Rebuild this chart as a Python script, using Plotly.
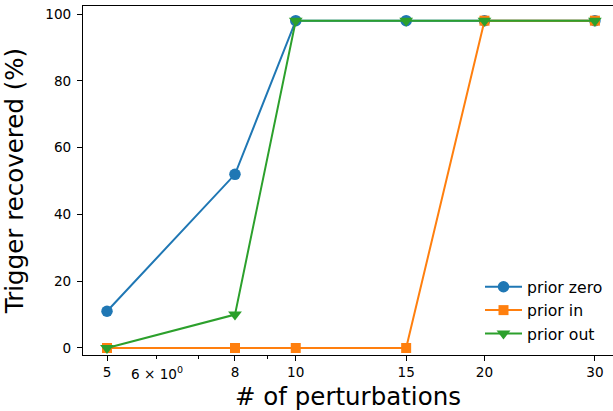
import math
import plotly.graph_objects as go

perturbations = [5, 8, 10, 15, 20, 30]
prior_zero = [11, 52, 98, 98, 98, 98]
prior_in = [0, 0, 0, 0, 98, 98]
prior_out = [0, 10, 98, 98, 98, 98]
x_ticks = [5, 8, 10, 15, 20, 30]
x_minor = [6, 7, 9]
y_ticks = [0, 20, 40, 60, 80, 100]

FONT = "DejaVu Sans"
TICK = 13.6
LABEL = 24.5
W, H = 613, 411
L, R, T, B = 83, 0, 6, 56
pw = W - L - R
ph = H - T - B
ppd = 627.0  # pixels per decade
x0 = math.log10(5) - 24 / ppd
x1 = x0 + pw / ppd

fig = go.Figure()
series = [
    ("prior zero", prior_zero, "#1f77b4", "circle", 11.5),
    ("prior in", prior_in, "#ff7f0e", "square", 10),
    ("prior out", prior_out, "#2ca02c", "triangle-down", 12),
]
for i, (name, vals, col, sym, sz) in enumerate(series):
    fig.add_trace(go.Scatter(
        x=perturbations, y=vals, name=name, mode="lines+markers",
        line=dict(color=col, width=2),
        marker=dict(color=col, symbol=sym, size=sz, line=dict(width=0)),
        legendgroup=f"g{i}",
    ))

fig.update_layout(
    width=W, height=H,
    margin=dict(l=L, r=R, t=T, b=B, pad=0),
    plot_bgcolor="white", paper_bgcolor="white",
    font=dict(family=FONT, color="black", size=TICK),
    showlegend=True,
    legend=dict(
        x=(480 - L) / pw, xanchor="left",
        y=(355 - 270) / ph, yanchor="top",
        bgcolor="rgba(0,0,0,0)", borderwidth=0,
        font=dict(family=FONT, size=15.7, color="black"),
        tracegroupgap=0, itemwidth=37,
    ),
    xaxis=dict(
        type="log", range=[x0, x1],
        tickmode="array", tickvals=x_ticks, ticktext=[str(v) for v in x_ticks],
        ticks="outside", ticklen=5, tickwidth=1, tickcolor="black",
        minor=dict(tickmode="array", tickvals=x_minor, ticks="outside",
                   ticklen=3, tickwidth=0.8, tickcolor="black", showgrid=False),
        showline=True, linecolor="black", linewidth=1, mirror=True,
        showgrid=False, zeroline=False,
        tickfont=dict(family=FONT, size=TICK, color="black"),
        title=dict(text="# of perturbations", font=dict(family=FONT, size=LABEL, color="black"), standoff=11),
    ),
    yaxis=dict(
        range=[-2.1, 102.4],
        tickmode="array", tickvals=y_ticks,
        ticks="outside", ticklen=5, tickwidth=1, tickcolor="black",
        ticklabelstandoff=3,
        showline=True, linecolor="black", linewidth=1, mirror=False,
        showgrid=False, zeroline=False,
        tickfont=dict(family=FONT, size=TICK, color="black"),
        title=dict(text="Trigger recovered (%)", font=dict(family=FONT, size=LABEL, color="black"), standoff=20),
    ),
)

fig.add_annotation(
    x=math.log10(6), xref="x", y=-(373 - 355) / ph, yref="paper",
    text="6 × 10<sup>0</sup>", showarrow=False,
    font=dict(family=FONT, size=TICK, color="black"),
    xanchor="center", yanchor="middle",
)

fig.write_html("out.html")
